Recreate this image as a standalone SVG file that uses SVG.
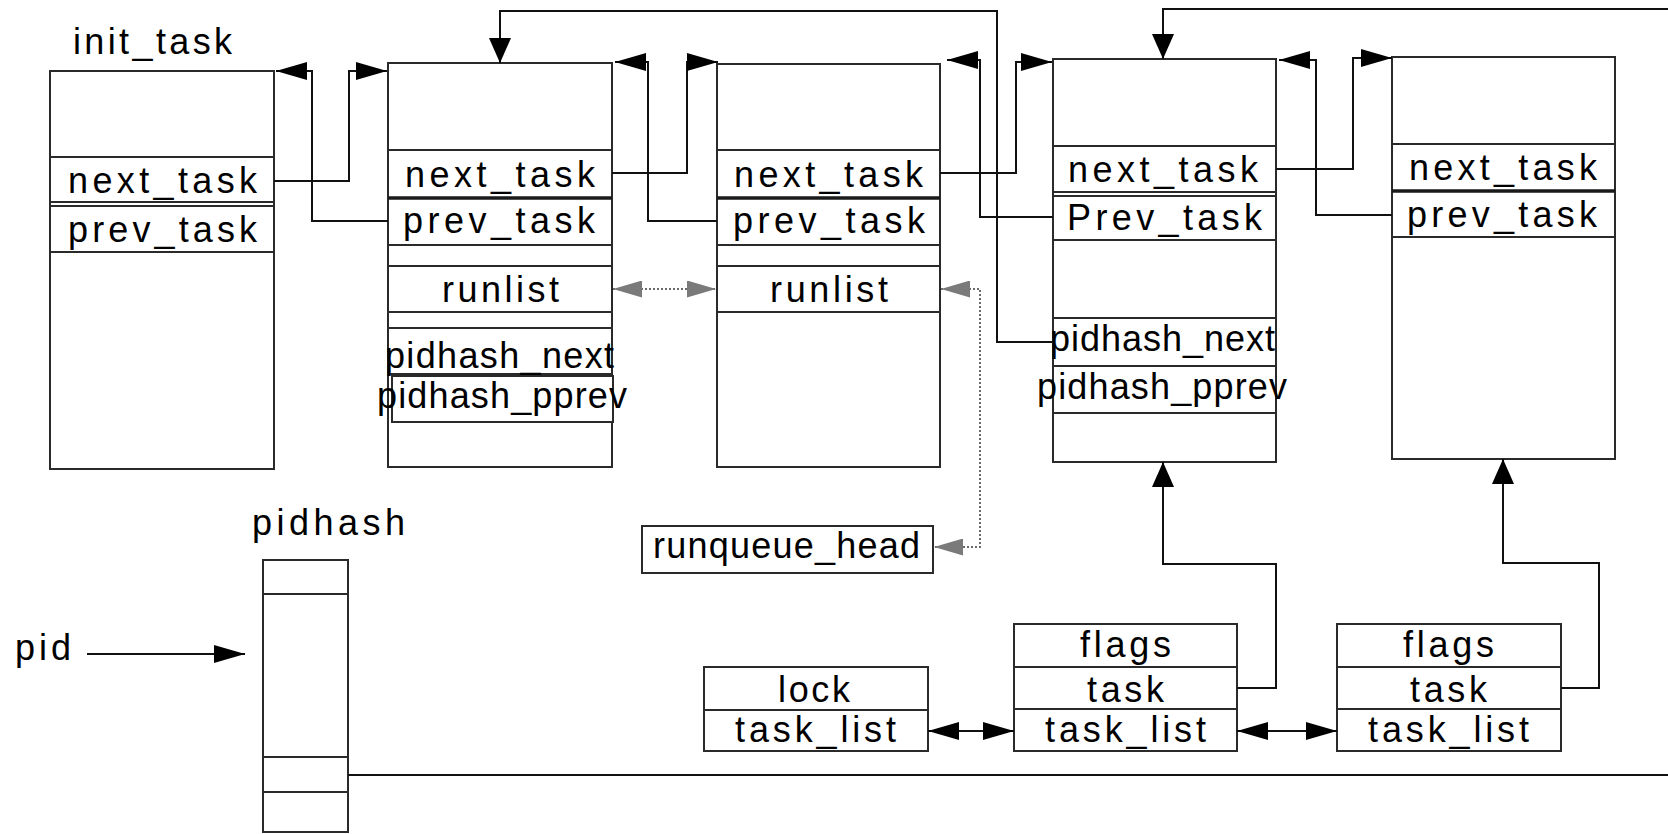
<svg xmlns="http://www.w3.org/2000/svg" width="1668" height="834" viewBox="0 0 1668 834">
  <style>
    .box { fill: #ffffff; stroke: #2a2a2a; stroke-width: 2; }
    .sep { stroke: #2a2a2a; stroke-width: 2; fill: none; }
    .thick { stroke: #1a1a1a; stroke-width: 3.5; fill: none; }
    .lbl { font-family: "Liberation Sans", Arial, sans-serif; font-size: 36px; fill: #000000; }
    .link { stroke: #111111; stroke-width: 2; fill: none; }
    .dot { stroke: #6a6a6a; stroke-width: 2; stroke-dasharray: 2 2; fill: none; }
  </style>
  <defs>
    <marker id="arrowH" viewBox="0 0 31 18" refX="31" refY="9" markerWidth="31" markerHeight="18" markerUnits="userSpaceOnUse" orient="auto-start-reverse">
      <path d="M0,0 L31,9 L0,18 z" fill="#000000"/>
    </marker>
    <marker id="arrowV" viewBox="0 0 25 22" refX="25" refY="11" markerWidth="25" markerHeight="22" markerUnits="userSpaceOnUse" orient="auto">
      <path d="M0,0 L25,11 L0,22 z" fill="#000000"/>
    </marker>
    <marker id="arrowGray" viewBox="0 0 29 17" refX="29" refY="8.5" markerWidth="29" markerHeight="17" markerUnits="userSpaceOnUse" orient="auto-start-reverse">
      <path d="M0,0 L29,8.5 L0,17 z" fill="#7a7a7a"/>
    </marker>
  </defs>

  <rect x="0" y="0" width="1668" height="834" fill="#ffffff"/>

  <!-- init_task -->
  <g id="init_task">
    <text class="lbl" x="73" y="54" textLength="159" lengthAdjust="spacing">init_task</text>
    <rect class="box" x="50" y="71" width="224" height="398"/>
    <path class="sep" d="M50,157 H274 M50,202 H274 M50,206 H274 M50,252 H274"/>
    <text class="lbl" x="68" y="193" textLength="189" lengthAdjust="spacing">next_task</text>
    <text class="lbl" x="68" y="242" textLength="189" lengthAdjust="spacing">prev_task</text>
  </g>

  <!-- task 2 -->
  <g id="task2">
    <rect class="box" x="388" y="63" width="224" height="404"/>
    <path class="sep" d="M388,150 H612 M388,245 H612 M388,266 H612 M388,312 H612 M388,328 H612"/>
    <path class="thick" d="M388,198 H612"/>
    <path class="sep" d="M388,374 H612" stroke-width="3"/>
    <rect class="box" x="392" y="376" width="221" height="46"/>
    <text class="lbl" x="405" y="187" textLength="190" lengthAdjust="spacing">next_task</text>
    <text class="lbl" x="403" y="233" textLength="192" lengthAdjust="spacing">prev_task</text>
    <text class="lbl" x="442" y="302" textLength="117" lengthAdjust="spacing">runlist</text>
    <text class="lbl" x="385" y="368" textLength="229" lengthAdjust="spacing">pidhash_next</text>
    <text class="lbl" x="377" y="408" textLength="250" lengthAdjust="spacing">pidhash_pprev</text>
  </g>

  <!-- task 3 -->
  <g id="task3">
    <rect class="box" x="717" y="64" width="223" height="403"/>
    <path class="sep" d="M717,150 H940 M717,245 H940 M717,266 H940 M717,312 H940"/>
    <path class="thick" d="M717,198 H940"/>
    <text class="lbl" x="734" y="187" textLength="189" lengthAdjust="spacing">next_task</text>
    <text class="lbl" x="733" y="233" textLength="192" lengthAdjust="spacing">prev_task</text>
    <text class="lbl" x="770" y="302" textLength="118" lengthAdjust="spacing">runlist</text>
  </g>

  <!-- task 4 -->
  <g id="task4">
    <rect class="box" x="1053" y="59" width="223" height="403"/>
    <path class="sep" d="M1053,146 H1276 M1053,192 H1276 M1053,196 H1276 M1053,240 H1276 M1053,318 H1276 M1053,413 H1276"/>
    <path class="sep" d="M1053,366 H1276" stroke-width="3"/>
    <text class="lbl" x="1068" y="182" textLength="190" lengthAdjust="spacing">next_task</text>
    <text class="lbl" x="1067" y="230" textLength="195" lengthAdjust="spacing">Prev_task</text>
    <text class="lbl" x="1050" y="351" textLength="225" lengthAdjust="spacing">pidhash_next</text>
    <text class="lbl" x="1037" y="399" textLength="250" lengthAdjust="spacing">pidhash_pprev</text>
  </g>

  <!-- task 5 -->
  <g id="task5">
    <rect class="box" x="1392" y="57" width="223" height="402"/>
    <path class="sep" d="M1392,144 H1615 M1392,237 H1615"/>
    <path class="thick" d="M1392,191 H1615"/>
    <text class="lbl" x="1409" y="180" textLength="188" lengthAdjust="spacing">next_task</text>
    <text class="lbl" x="1407" y="227" textLength="190" lengthAdjust="spacing">prev_task</text>
  </g>

  <!-- runqueue_head -->
  <g id="runqueue_head">
    <rect class="box" x="642" y="526" width="291" height="47"/>
    <text class="lbl" x="653" y="558" textLength="267" lengthAdjust="spacing">runqueue_head</text>
  </g>

  <!-- pidhash table -->
  <g id="pidhash">
    <text class="lbl" x="252" y="535" textLength="153" lengthAdjust="spacing">pidhash</text>
    <rect class="box" x="263" y="560" width="85" height="272"/>
    <path class="sep" d="M263,594 H348 M263,757 H348 M263,792 H348"/>
  </g>

  <!-- pid -->
  <g id="pid">
    <text class="lbl" x="15" y="660" textLength="56" lengthAdjust="spacing">pid</text>
  </g>

  <!-- lock / task_list head -->
  <g id="lock">
    <rect class="box" x="704" y="667" width="224" height="84"/>
    <path class="sep" d="M704,710 H928"/>
    <text class="lbl" x="778" y="702" textLength="72" lengthAdjust="spacing">lock</text>
    <text class="lbl" x="735" y="742" textLength="161" lengthAdjust="spacing">task_list</text>
  </g>

  <!-- flags entry 1 -->
  <g id="flags1">
    <rect class="box" x="1014" y="624" width="223" height="127"/>
    <path class="sep" d="M1014,667 H1237 M1014,709 H1237"/>
    <text class="lbl" x="1080" y="657" textLength="91" lengthAdjust="spacing">flags</text>
    <text class="lbl" x="1087" y="702" textLength="77" lengthAdjust="spacing">task</text>
    <text class="lbl" x="1045" y="742" textLength="161" lengthAdjust="spacing">task_list</text>
  </g>

  <!-- flags entry 2 -->
  <g id="flags2">
    <rect class="box" x="1337" y="624" width="224" height="127"/>
    <path class="sep" d="M1337,667 H1561 M1337,709 H1561"/>
    <text class="lbl" x="1403" y="657" textLength="91" lengthAdjust="spacing">flags</text>
    <text class="lbl" x="1410" y="702" textLength="77" lengthAdjust="spacing">task</text>
    <text class="lbl" x="1368" y="742" textLength="161" lengthAdjust="spacing">task_list</text>
  </g>

  <!-- connectors -->
  <g id="connectors">
    <!-- next_task / prev_task chain -->
    <path class="link" d="M274,181 H349 V71 H387" marker-end="url(#arrowH)"/>
    <path class="link" d="M388,221 H312 V71 H276" marker-end="url(#arrowH)"/>
    <path class="link" d="M612,173 H687 V62 H718" marker-end="url(#arrowH)"/>
    <path class="link" d="M717,221 H648 V62 H615" marker-end="url(#arrowH)"/>
    <path class="link" d="M940,173 H1016 V62 H1052" marker-end="url(#arrowH)"/>
    <path class="link" d="M1053,217 H980 V60 H947" marker-end="url(#arrowH)"/>
    <path class="link" d="M1276,169 H1353 V58 H1392" marker-end="url(#arrowH)"/>
    <path class="link" d="M1392,215 H1316 V60 H1279" marker-end="url(#arrowH)"/>

    <!-- pidhash chain -->
    <path class="link" d="M1053,342 H997 V11 H500 V63" marker-end="url(#arrowV)"/>
    <path class="link" d="M1668,9 H1163 V59" marker-end="url(#arrowV)"/>
    <path class="link" d="M348,775 H1668"/>
    <path class="link" d="M87,654 H245" marker-end="url(#arrowH)"/>

    <!-- run queue -->
    <path class="dot" d="M613,289 H716" marker-start="url(#arrowGray)" marker-end="url(#arrowGray)"/>
    <path class="dot" d="M941,289 H980 V547 H934" marker-start="url(#arrowGray)" marker-end="url(#arrowGray)"/>

    <!-- task_list ring -->
    <path class="link" d="M928,731 H1014" marker-start="url(#arrowH)" marker-end="url(#arrowH)"/>
    <path class="link" d="M1237,731 H1337" marker-start="url(#arrowH)" marker-end="url(#arrowH)"/>

    <!-- task pointers -->
    <path class="link" d="M1237,688 H1276 V564 H1163 V462" marker-end="url(#arrowV)"/>
    <path class="link" d="M1561,688 H1599 V563 H1503 V459" marker-end="url(#arrowV)"/>
  </g>
</svg>
